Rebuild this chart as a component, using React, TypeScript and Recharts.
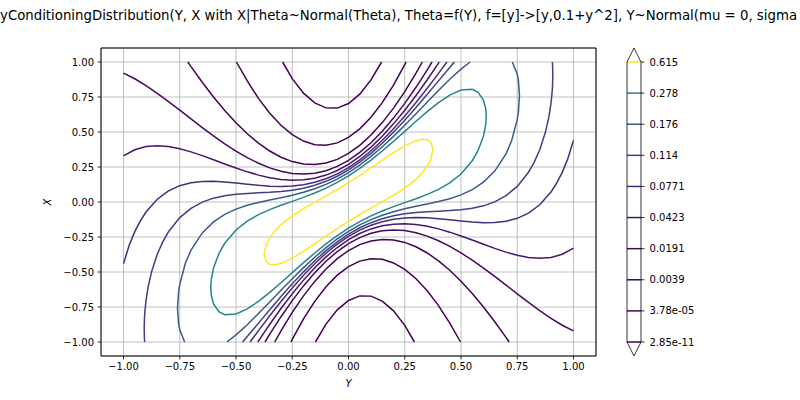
import { ComposedChart, Line, XAxis, YAxis, CartesianGrid, ReferenceArea, ReferenceLine, Label } from 'recharts'

// contour levels, top of the colour bar first
const levelLabels = ['0.615', '0.278', '0.176', '0.114', '0.0771', '0.0423', '0.0191', '0.0039', '3.78e-05', '2.85e-11']
const levelColors = ['#fde725', '#25848d', '#375b8d', '#423f85', '#472c7a', '#471669', '#46085c', '#440256', '#440154', '#440154']

const axisTicks = [-1, -0.75, -0.5, -0.25, 0, 0.25, 0.5, 0.75, 1]

const title =
  'JointByConditioningDistribution(Y, X with X|Theta~Normal(Theta), Theta=f(Y), f=[y]->[y,0.1+y^2], Y~Normal(mu = 0, sigma = 1))'

// contour pieces, as [Y, X] pairs
const c615 = [
  [-0.3757, -0.3757], [-0.365, -0.3012], [-0.35, -0.2557], [-0.325, -0.2026], [-0.3, -0.1619], [-0.25, -0.0986],
  [-0.2, -0.0474], [-0.15, -0.0013], [-0.1, 0.0435], [-0.05, 0.0894], [0, 0.1379], [0.05, 0.1894], [0.1, 0.2435],
  [0.15, 0.2987], [0.2, 0.3526], [0.25, 0.4014], [0.3, 0.4381], [0.325, 0.4474], [0.35, 0.4443], [0.365, 0.4288],
  [0.3757, 0.3757], [0.365, 0.3012], [0.35, 0.2557], [0.325, 0.2026], [0.3, 0.1619], [0.25, 0.0986], [0.2, 0.0474],
  [0.15, 0.0013], [0.1, -0.0435], [0.05, -0.0894], [0, -0.1379], [-0.05, -0.1894], [-0.1, -0.2435], [-0.15, -0.2987],
  [-0.2, -0.3526], [-0.25, -0.4014], [-0.3, -0.4381], [-0.325, -0.4474], [-0.35, -0.4443], [-0.365, -0.4288],
  [-0.3757, -0.3757],
]

const c278 = [
  [-0.6122, -0.6122], [-0.61, -0.5549], [-0.6, -0.4719], [-0.575, -0.3645], [-0.55, -0.2948], [-0.5, -0.2001],
  [-0.45, -0.1366], [-0.4, -0.0903], [-0.35, -0.0542], [-0.3, -0.0236], [-0.25, 0.0047], [-0.2, 0.0333],
  [-0.15, 0.0643], [-0.1, 0.0995], [-0.05, 0.14], [0, 0.1868], [0.05, 0.24], [0.1, 0.2995], [0.15, 0.3643],
  [0.2, 0.4333], [0.25, 0.5047], [0.3, 0.5764], [0.35, 0.6458], [0.4, 0.7097], [0.45, 0.7634], [0.5, 0.7999],
  [0.55, 0.8052], [0.575, 0.7855], [0.6, 0.7281], [0.61, 0.6651], [0.6122, 0.6122], [0.61, 0.5549], [0.6, 0.4719],
  [0.575, 0.3645], [0.55, 0.2948], [0.5, 0.2001], [0.45, 0.1366], [0.4, 0.0903], [0.35, 0.0542], [0.3, 0.0236],
  [0.25, -0.0047], [0.2, -0.0333], [0.15, -0.0643], [0.1, -0.0995], [0.05, -0.14], [0, -0.1868], [-0.05, -0.24],
  [-0.1, -0.2995], [-0.15, -0.3643], [-0.2, -0.4333], [-0.25, -0.5047], [-0.3, -0.5764], [-0.35, -0.6458],
  [-0.4, -0.7097], [-0.45, -0.7634], [-0.5, -0.7999], [-0.55, -0.8052], [-0.575, -0.7855], [-0.6, -0.7281],
  [-0.61, -0.6651], [-0.6122, -0.6122],
]

const c176a = [
  [0.7281, 1], [0.75, 0.9119], [0.755, 0.8703], [0.76, 0.76], [0.755, 0.6397], [0.75, 0.5881], [0.725, 0.4375],
  [0.7, 0.344], [0.65, 0.2209], [0.6, 0.1419], [0.55, 0.0882], [0.5, 0.0506], [0.45, 0.0235], [0.4, 0.0029],
  [0.35, -0.0144], [0.3, -0.0307], [0.25, -0.0483], [0.2, -0.069], [0.15, -0.0943], [0.1, -0.1255], [0.05, -0.1638],
  [0, -0.2099], [-0.05, -0.2638], [-0.1, -0.3255], [-0.15, -0.3943], [-0.2, -0.469], [-0.25, -0.5483],
  [-0.3, -0.6307], [-0.35, -0.7144], [-0.4, -0.7971], [-0.45, -0.8765], [-0.5, -0.9494], [-0.5405, -1],
]
const c176b = [
  [-0.7281, -1], [-0.75, -0.9119], [-0.755, -0.8703], [-0.76, -0.76], [-0.755, -0.6397], [-0.75, -0.5881],
  [-0.725, -0.4375], [-0.7, -0.344], [-0.65, -0.2209], [-0.6, -0.1419], [-0.55, -0.0882], [-0.5, -0.0506],
  [-0.45, -0.0235], [-0.4, -0.0029], [-0.35, 0.0144], [-0.3, 0.0307], [-0.25, 0.0483], [-0.2, 0.069],
  [-0.15, 0.0943], [-0.1, 0.1255], [-0.05, 0.1638], [0, 0.2099], [0.05, 0.2638], [0.1, 0.3255], [0.15, 0.3943],
  [0.2, 0.469], [0.25, 0.5483], [0.3, 0.6307], [0.35, 0.7144], [0.4, 0.7971], [0.45, 0.8765], [0.5, 0.9494],
  [0.5405, 1],
]

const c114a = [
  [-0.906, -1], [-0.907, -0.9768], [-0.908, -0.908], [-0.907, -0.8372], [-0.905, -0.7844], [-0.9, -0.7049],
  [-0.89, -0.6027], [-0.875, -0.4975], [-0.85, -0.3735], [-0.825, -0.283], [-0.8, -0.2128], [-0.75, -0.1117],
  [-0.7, -0.045], [-0.65, -0.001], [-0.6, 0.0274], [-0.55, 0.045], [-0.5, 0.0553], [-0.45, 0.0612], [-0.4, 0.0652],
  [-0.35, 0.0693], [-0.3, 0.0752], [-0.25, 0.0846], [-0.2, 0.0989], [-0.15, 0.1196], [-0.1, 0.1477],
  [-0.05, 0.1842], [0, 0.2296], [0.05, 0.2842], [0.1, 0.3477], [0.15, 0.4196], [0.2, 0.4989], [0.25, 0.5846],
  [0.3, 0.6752], [0.35, 0.7693], [0.4, 0.8652], [0.45, 0.9612], [0.4706, 1],
]
const c114b = [
  [0.906, 1], [0.907, 0.9768], [0.908, 0.908], [0.907, 0.8372], [0.905, 0.7844], [0.9, 0.7049], [0.89, 0.6027],
  [0.875, 0.4975], [0.85, 0.3735], [0.825, 0.283], [0.8, 0.2128], [0.75, 0.1117], [0.7, 0.045], [0.65, 0.001],
  [0.6, -0.0274], [0.55, -0.045], [0.5, -0.0553], [0.45, -0.0612], [0.4, -0.0652], [0.35, -0.0693], [0.3, -0.0752],
  [0.25, -0.0846], [0.2, -0.0989], [0.15, -0.1196], [0.1, -0.1477], [0.05, -0.1842], [0, -0.2296],
  [-0.05, -0.2842], [-0.1, -0.3477], [-0.15, -0.4196], [-0.2, -0.4989], [-0.25, -0.5846], [-0.3, -0.6752],
  [-0.35, -0.7693], [-0.4, -0.8652], [-0.45, -0.9612], [-0.4706, -1],
]

const c0771a = [
  [-1, -0.4403], [-0.975, -0.3104], [-0.95, -0.2119], [-0.925, -0.1343], [-0.9, -0.0719], [-0.85, 0.0196],
  [-0.8, 0.0792], [-0.75, 0.1165], [-0.7, 0.1375], [-0.65, 0.1467], [-0.6, 0.1478], [-0.55, 0.1433], [-0.5, 0.1357],
  [-0.45, 0.127], [-0.4, 0.1189], [-0.35, 0.1131], [-0.3, 0.1111], [-0.25, 0.1141], [-0.2, 0.1236], [-0.15, 0.1406],
  [-0.1, 0.1661], [-0.05, 0.2011], [0, 0.2461], [0.05, 0.3011], [0.1, 0.3661], [0.15, 0.4406], [0.2, 0.5236],
  [0.25, 0.6141], [0.3, 0.7111], [0.35, 0.8131], [0.4, 0.9189], [0.4375, 1],
]
const c0771b = [
  [1, 0.4403], [0.975, 0.3104], [0.95, 0.2119], [0.925, 0.1343], [0.9, 0.0719], [0.85, -0.0196], [0.8, -0.0792],
  [0.75, -0.1165], [0.7, -0.1375], [0.65, -0.1467], [0.6, -0.1478], [0.55, -0.1433], [0.5, -0.1357], [0.45, -0.127],
  [0.4, -0.1189], [0.35, -0.1131], [0.3, -0.1111], [0.25, -0.1141], [0.2, -0.1236], [0.15, -0.1406], [0.1, -0.1661],
  [0.05, -0.2011], [0, -0.2461], [-0.05, -0.3011], [-0.1, -0.3661], [-0.15, -0.4406], [-0.2, -0.5236],
  [-0.25, -0.6141], [-0.3, -0.7111], [-0.35, -0.8131], [-0.4, -0.9189], [-0.4375, -1],
]

const c0423a = [
  [-1, 0.3289], [-0.95, 0.3734], [-0.9, 0.3962], [-0.85, 0.4024], [-0.8, 0.3961], [-0.75, 0.3804], [-0.7, 0.358],
  [-0.65, 0.3311], [-0.6, 0.3018], [-0.55, 0.2717], [-0.5, 0.2424], [-0.45, 0.2154], [-0.4, 0.192], [-0.35, 0.1734],
  [-0.3, 0.1608], [-0.25, 0.1553], [-0.2, 0.1581], [-0.15, 0.1701], [-0.1, 0.1922], [-0.05, 0.2251], [0, 0.2694],
  [0.05, 0.3251], [0.1, 0.3922], [0.15, 0.4701], [0.2, 0.5581], [0.25, 0.6553], [0.3, 0.7608], [0.35, 0.8734],
  [0.4, 0.992], [0.403, 1],
]
const c0423b = [
  [1, -0.3289], [0.95, -0.3734], [0.9, -0.3962], [0.85, -0.4024], [0.8, -0.3961], [0.75, -0.3804], [0.7, -0.358],
  [0.65, -0.3311], [0.6, -0.3018], [0.55, -0.2717], [0.5, -0.2424], [0.45, -0.2154], [0.4, -0.192], [0.35, -0.1734],
  [0.3, -0.1608], [0.25, -0.1553], [0.2, -0.1581], [0.15, -0.1701], [0.1, -0.1922], [0.05, -0.2251], [0, -0.2694],
  [-0.05, -0.3251], [-0.1, -0.3922], [-0.15, -0.4701], [-0.2, -0.5581], [-0.25, -0.6553], [-0.3, -0.7608],
  [-0.35, -0.8734], [-0.4, -0.992], [-0.403, -1],
]

const c0191a = [
  [-1, 0.921], [-0.95, 0.8802], [-0.9, 0.8311], [-0.85, 0.7761], [-0.8, 0.717], [-0.75, 0.6556], [-0.7, 0.5934],
  [-0.65, 0.5318], [-0.6, 0.4722], [-0.55, 0.4158], [-0.5, 0.3637], [-0.45, 0.317], [-0.4, 0.2767], [-0.35, 0.2439],
  [-0.3, 0.2194], [-0.25, 0.2042], [-0.2, 0.1992], [-0.15, 0.2054], [-0.1, 0.2234], [-0.05, 0.254], [0, 0.2974],
  [0.05, 0.354], [0.1, 0.4234], [0.15, 0.5054], [0.2, 0.5992], [0.25, 0.7042], [0.3, 0.8194], [0.35, 0.9439],
  [0.371, 1],
]
const c0191b = [
  [1, -0.921], [0.95, -0.8802], [0.9, -0.8311], [0.85, -0.7761], [0.8, -0.717], [0.75, -0.6556], [0.7, -0.5934],
  [0.65, -0.5318], [0.6, -0.4722], [0.55, -0.4158], [0.5, -0.3637], [0.45, -0.317], [0.4, -0.2767], [0.35, -0.2439],
  [0.3, -0.2194], [0.25, -0.2042], [0.2, -0.1992], [0.15, -0.2054], [0.1, -0.2234], [0.05, -0.254], [0, -0.2974],
  [-0.05, -0.354], [-0.1, -0.4234], [-0.15, -0.5054], [-0.2, -0.5992], [-0.25, -0.7042], [-0.3, -0.8194],
  [-0.35, -0.9439], [-0.371, -1],
]

const c0039a = [
  [-0.714, 1], [-0.7, 0.967], [-0.65, 0.855], [-0.6, 0.75], [-0.55, 0.653], [-0.5, 0.5655], [-0.45, 0.4876],
  [-0.4, 0.4202], [-0.35, 0.3641], [-0.3, 0.32], [-0.25, 0.2887], [-0.2, 0.2708], [-0.15, 0.2671], [-0.1, 0.2782],
  [-0.05, 0.3046], [0, 0.3467], [0.05, 0.4046], [0.1, 0.4782], [0.15, 0.5671], [0.2, 0.6708], [0.25, 0.7887],
  [0.3, 0.92], [0.328, 1],
]
const c0039b = [
  [0.714, -1], [0.7, -0.967], [0.65, -0.855], [0.6, -0.75], [0.55, -0.653], [0.5, -0.5655], [0.45, -0.4876],
  [0.4, -0.4202], [0.35, -0.3641], [0.3, -0.32], [0.25, -0.2887], [0.2, -0.2708], [0.15, -0.2671], [0.1, -0.2782],
  [0.05, -0.3046], [0, -0.3467], [-0.05, -0.4046], [-0.1, -0.4782], [-0.15, -0.5671], [-0.2, -0.6708],
  [-0.25, -0.7887], [-0.3, -0.92], [-0.328, -1],
]

const c378e5a = [
  [-0.498, 1], [-0.45, 0.8644], [-0.4, 0.74], [-0.35, 0.6344], [-0.3, 0.548], [-0.25, 0.4815], [-0.2, 0.4352],
  [-0.15, 0.4096], [-0.1, 0.4052], [-0.05, 0.4224], [0, 0.4615], [0.05, 0.5224], [0.1, 0.6052], [0.15, 0.7096],
  [0.2, 0.8352], [0.25, 0.9815], [0.256, 1],
]
const c378e5b = [
  [0.498, -1], [0.45, -0.8644], [0.4, -0.74], [0.35, -0.6344], [0.3, -0.548], [0.25, -0.4815], [0.2, -0.4352],
  [0.15, -0.4096], [0.1, -0.4052], [0.05, -0.4224], [0, -0.4615], [-0.05, -0.5224], [-0.1, -0.6052],
  [-0.15, -0.7096], [-0.2, -0.8352], [-0.25, -0.9815], [-0.256, -1],
]

const c285e11a = [
  [-0.293, 1], [-0.25, 0.8812], [-0.2, 0.7778], [-0.15, 0.708], [-0.1, 0.6723], [-0.05, 0.6707], [0, 0.7035],
  [0.05, 0.7707], [0.1, 0.8723], [0.147, 1],
]
const c285e11b = [
  [0.293, -1], [0.25, -0.8812], [0.2, -0.7778], [0.15, -0.708], [0.1, -0.6723], [0.05, -0.6707], [0, -0.7035],
  [-0.05, -0.7707], [-0.1, -0.8723], [-0.147, -1],
]

// level index (into levelLabels) of each piece, lowest level drawn first
const pieces: [number, number[][]][] = [
  [9, c285e11a], [9, c285e11b],
  [8, c378e5a], [8, c378e5b],
  [7, c0039a], [7, c0039b],
  [6, c0191a], [6, c0191b],
  [5, c0423a], [5, c0423b],
  [4, c0771a], [4, c0771b],
  [3, c114a], [3, c114b],
  [2, c176a], [2, c176b],
  [1, c278],
  [0, c615],
]

const toPoints = (a: number[][]) => a.map(([Y, X]) => ({ Y, X }))

const font = 'DejaVu Sans'
const fmtTick = (v: number) => (v < 0 ? '\u2212' : '') + Math.abs(v).toFixed(2)

function ColorBar() {
  const idx = levelLabels.map((_, i) => i)
  const outline = [
    { u: 0, v: 0 }, { u: 0, v: 9 }, { u: 0.5, v: 9.45 }, { u: 1, v: 9 },
    { u: 1, v: 0 }, { u: 0.5, v: -0.45 }, { u: 0, v: 0 },
  ]
  return (
    <ComposedChart width={200} height={400} margin={{ top: 48, right: 0, bottom: 44, left: 27 }}>
      <XAxis type="number" dataKey="u" domain={[0, 1]} hide />
      <YAxis
        type="number"
        orientation="right"
        domain={[-0.45, 9.45]}
        ticks={idx}
        interval={0}
        tickFormatter={(i: number) => levelLabels[9 - i]}
        width={159}
        axisLine={false}
        tickLine={{ stroke: '#000', strokeWidth: 0.8 }}
        tickSize={3.5}
        tickMargin={5}
        tick={{ fontSize: 10, fill: '#000', fontFamily: font, textAnchor: 'start' }}
      />
      {idx.map((i) => (
        <ReferenceLine key={i} y={9 - i} stroke={levelColors[i]} strokeWidth={1.5} />
      ))}
      <Line data={outline} dataKey="v" type="linear" stroke="#000" strokeWidth={0.8} dot={false} activeDot={false} isAnimationActive={false} />
    </ComposedChart>
  )
}

export default function App() {
  return (
    <div style={{ position: 'absolute', left: 0, top: 0, width: 800, height: 400, background: '#fff', overflow: 'hidden' }}>
      <ComposedChart width={800} height={400} margin={{ top: 48, right: 204, bottom: 4, left: 41 }}>
        <CartesianGrid stroke="#b0b0b0" strokeWidth={0.8} />
        <XAxis
          type="number"
          dataKey="Y"
          domain={[-1.1, 1.1]}
          allowDataOverflow
          ticks={axisTicks}
          interval={0}
          tickFormatter={fmtTick}
          height={40}
          axisLine={false}
          tickLine={{ stroke: '#000', strokeWidth: 0.8 }}
          tickSize={3.5}
          tickMargin={3}
          tick={{ fontSize: 10, fill: '#000', fontFamily: font }}
        >
          <Label
            content={() => (
              <text x={348.5} y={387} textAnchor="middle" fontSize={10} fontStyle="italic" fontFamily={font} fill="#000">
                Y
              </text>
            )}
          />
        </XAxis>
        <YAxis
          type="number"
          domain={[-1.1, 1.1]}
          allowDataOverflow
          ticks={axisTicks}
          interval={0}
          tickFormatter={fmtTick}
          width={60}
          axisLine={false}
          tickLine={{ stroke: '#000', strokeWidth: 0.8 }}
          tickSize={3.5}
          tickMargin={3.5}
          tick={{ fontSize: 10, fill: '#000', fontFamily: font }}
        >
          <Label
            content={() => (
              <text x={51} y={202} transform="rotate(-90 51 202)" textAnchor="middle" fontSize={10} fontStyle="italic" fontFamily={font} fill="#000">
                X
              </text>
            )}
          />
        </YAxis>
        {pieces.map(([lv, arr], i) => (
          <Line
            key={i}
            data={toPoints(arr)}
            dataKey="X"
            type="linear"
            stroke={levelColors[lv]}
            strokeWidth={1.5}
            dot={false}
            activeDot={false}
            legendType="none"
            isAnimationActive={false}
          />
        ))}
        <ReferenceArea x1={-1.1} x2={1.1} y1={-1.1} y2={1.1} fill="none" stroke="#000" strokeWidth={1} />
      </ComposedChart>
      <div style={{ position: 'absolute', left: 600, top: 0 }}>
        <ColorBar />
      </div>
      <svg width={800} height={400} style={{ position: 'absolute', left: 0, top: 0, pointerEvents: 'none' }}>
        <text x={-38.5} y={20} fontSize={13.3} fontFamily={font} fill="#000">
          {title}
        </text>
      </svg>
    </div>
  )
}
